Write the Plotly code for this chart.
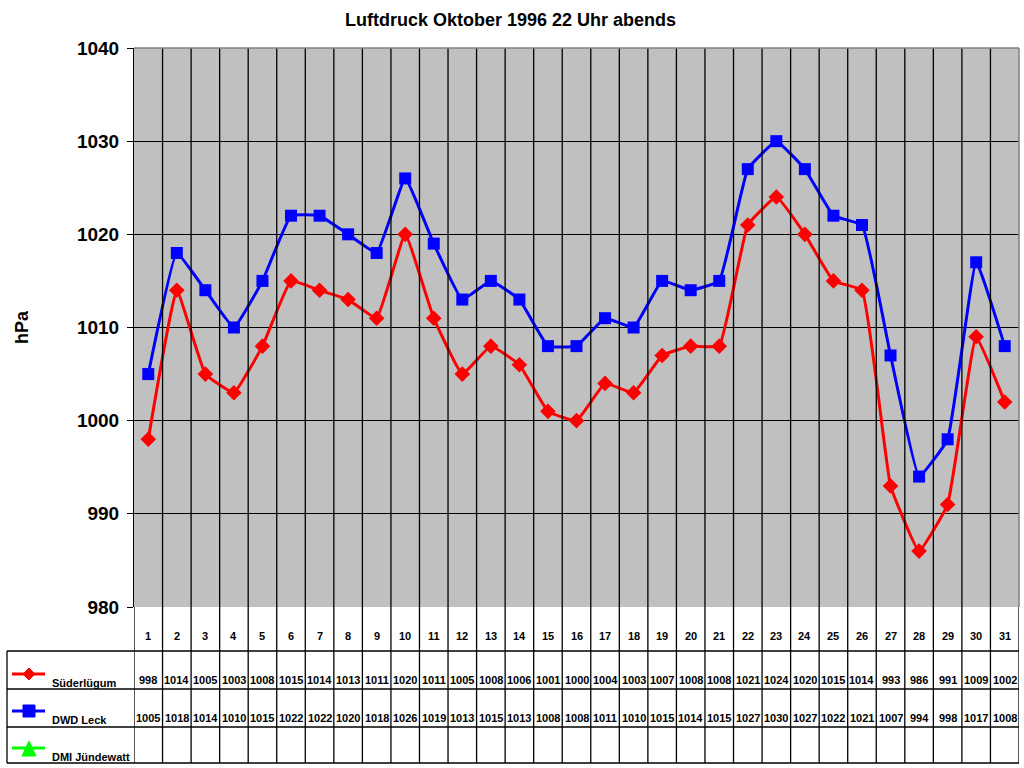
import plotly.graph_objects as go

days = list(range(1, 32))
suederluegum = [998, 1014, 1005, 1003, 1008, 1015, 1014, 1013, 1011, 1020, 1011, 1005, 1008, 1006, 1001,
                1000, 1004, 1003, 1007, 1008, 1008, 1021, 1024, 1020, 1015, 1014, 993, 986, 991, 1009, 1002]
dwd_leck = [1005, 1018, 1014, 1010, 1015, 1022, 1022, 1020, 1018, 1026, 1019, 1013, 1015, 1013, 1008,
            1008, 1011, 1010, 1015, 1014, 1015, 1027, 1030, 1027, 1022, 1021, 1007, 994, 998, 1017, 1008]
dmi_juendewatt = [None] * 31
series_names = ["Süderlügum", "DWD Leck", "DMI Jündewatt"]
series_colors = ["#FF0000", "#0000FF", "#00FF00"]
title_text = "Luftdruck Oktober 1996 22 Uhr abends"
y_title = "hPa"
y_ticks = [980, 990, 1000, 1010, 1020, 1030, 1040]

W, H = 1024, 768
L, R, T, B = 134, 1019, 48, 607
PW, PH = R - L, B - T
FONT = "Arial, Liberation Sans, sans-serif"


def px_x(px):
    return (px - L) / PW


def px_y(py):
    return (B - py) / PH


fig = go.Figure()
all_series = [suederluegum, dwd_leck, dmi_juendewatt]
symbols = ["diamond", "square", "triangle-up"]
sizes = [12, 12, 12]
for name, vals, col, sym, sz in zip(series_names, all_series, series_colors, symbols, sizes):
    fig.add_trace(go.Scatter(
        x=days, y=vals, name=name, mode="lines+markers",
        line=dict(color=col, width=3, shape="spline", smoothing=0.3),
        marker=dict(symbol=sym, size=sz, color=col),
        showlegend=False, cliponaxis=False,
    ))

shapes = []
# vertical separators through plot and table
for i in range(len(days) + 1):
    xv = 0.5 + i
    shapes.append(dict(type="line", xref="x", yref="paper", x0=xv, x1=xv,
                       y0=px_y(763), y1=1 if 0 < i < len(days) else px_y(607),
                       line=dict(color="black", width=1.3), layer="above"))
# table horizontals
for py in [651, 689, 727, 763]:
    shapes.append(dict(type="line", xref="paper", yref="paper", x0=px_x(7), x1=1,
                       y0=px_y(py), y1=px_y(py), line=dict(color="black", width=1.3)))
shapes.append(dict(type="line", xref="paper", yref="paper", x0=px_x(7), x1=px_x(7),
                   y0=px_y(651), y1=px_y(763), line=dict(color="black", width=1.3)))
# plot border top/right gray
shapes.append(dict(type="line", xref="paper", yref="paper", x0=0, x1=1, y0=1, y1=1,
                   line=dict(color="#808080", width=1.5)))
shapes.append(dict(type="line", xref="paper", yref="paper", x0=1, x1=1, y0=px_y(607), y1=1,
                   line=dict(color="#808080", width=1.5)))

# legend keys in table
key_y = [674, 711, 748]
for idx, (col, ky) in enumerate(zip(series_colors, key_y)):
    shapes.append(dict(type="line", xref="paper", yref="paper", x0=px_x(12), x1=px_x(45),
                       y0=px_y(ky), y1=px_y(ky), line=dict(color=col, width=3)))
    if idx == 0:
        path = "M0,6 L6,0 L0,-6 L-6,0 Z"
    elif idx == 1:
        path = "M-6,-6 L6,-6 L6,6 L-6,6 Z"
    else:
        path = "M-7,-8 L7,-8 L0,7 Z"
    shapes.append(dict(type="path", xref="paper", yref="paper", xsizemode="pixel", ysizemode="pixel",
                       xanchor=px_x(29), yanchor=px_y(ky), path=path,
                       fillcolor=col, line=dict(color=col, width=1)))

ann = []
ann.append(dict(text=f"<b>{title_text}</b>", xref="paper", yref="paper", x=px_x(510), y=px_y(20),
                showarrow=False, font=dict(family=FONT, size=18, color="black"),
                xanchor="center", yanchor="middle"))
ann.append(dict(text=f"<b>{y_title}</b>", xref="paper", yref="paper", x=px_x(22), y=px_y(327),
                showarrow=False, textangle=-90, font=dict(family=FONT, size=18, color="black"),
                xanchor="center", yanchor="middle"))
for d in days:
    ann.append(dict(text=f"<b>{d}</b>", xref="x", yref="paper", x=d, y=px_y(636), showarrow=False,
                    font=dict(family=FONT, size=11, color="black"), xanchor="center", yanchor="middle"))
row_y = [680, 718, 756]
for vals, ry in zip(all_series, row_y):
    for d, v in zip(days, vals):
        if v is None:
            continue
        ann.append(dict(text=f"<b>{v}</b>", xref="x", yref="paper", x=d, y=px_y(ry), showarrow=False,
                        font=dict(family=FONT, size=11, color="black"), xanchor="center", yanchor="middle"))
text_y = [683, 720, 757]
for name, ty in zip(series_names, text_y):
    ann.append(dict(text=f"<b>{name}</b>", xref="paper", yref="paper", x=px_x(50), y=px_y(ty),
                    showarrow=False, font=dict(family=FONT, size=11, color="black"),
                    xanchor="left", yanchor="middle"))

fig.update_layout(
    width=W, height=H,
    margin=dict(l=L, r=W - R, t=T, b=H - B, pad=0),
    paper_bgcolor="white", plot_bgcolor="#C0C0C0",
    shapes=shapes, annotations=ann,
    xaxis=dict(range=[0.5, 31.5], showticklabels=False, showgrid=False, zeroline=False,
               ticks="", showline=False, fixedrange=True),
    yaxis=dict(range=[980, 1040], tickvals=y_ticks, ticktext=[f"<b>{t}</b>" for t in y_ticks],
               showgrid=True, gridcolor="black", gridwidth=1, zeroline=False,
               ticks="outside", ticklen=6, tickcolor="black", tickwidth=1,
               showline=True, linecolor="black", linewidth=1,
               tickfont=dict(family=FONT, size=19, color="black"), ticklabelstandoff=4,
               fixedrange=True),
    showlegend=False,
)

fig.write_html("out.html")
